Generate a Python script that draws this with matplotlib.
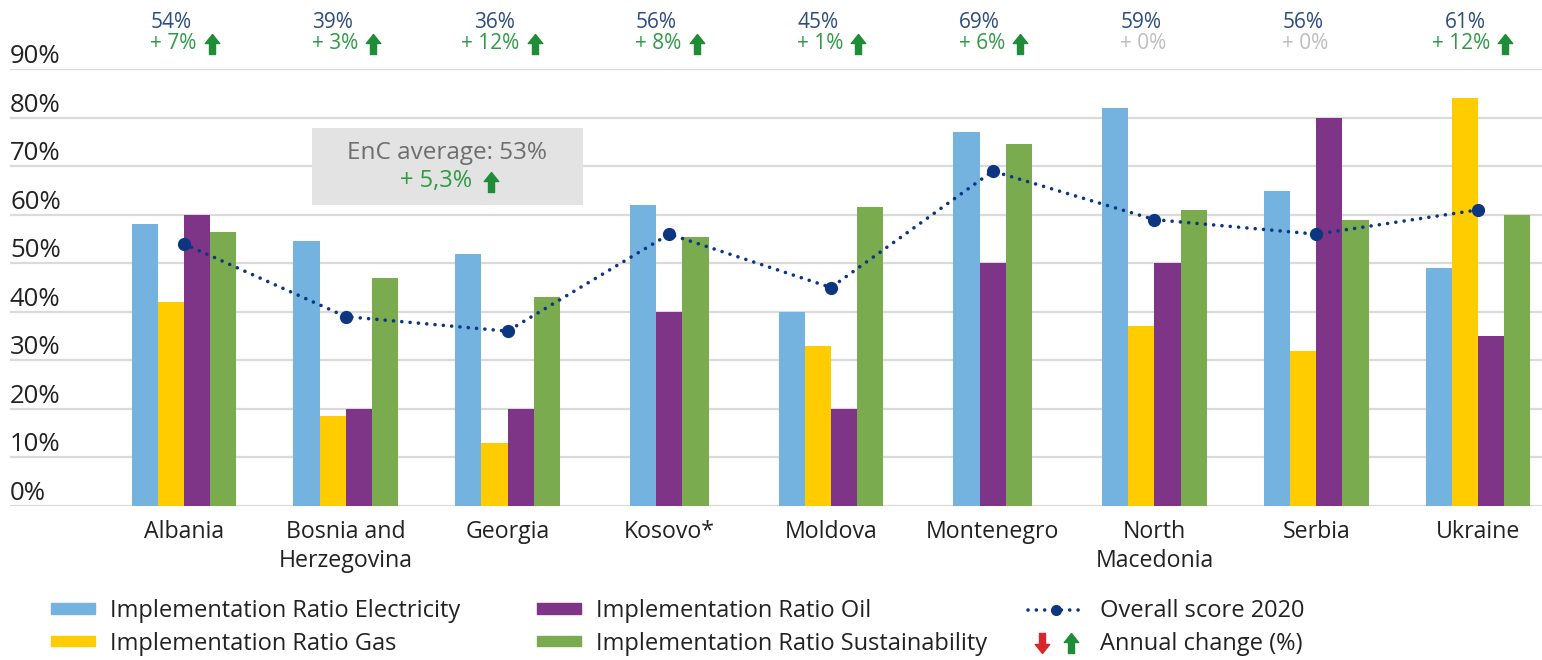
import numpy as np
import matplotlib.pyplot as plt
from matplotlib.patches import Rectangle, Patch
from matplotlib.lines import Line2D
from matplotlib.path import Path
from matplotlib.legend_handler import HandlerTuple
import matplotlib.transforms as mtransforms

plt.rcParams['font.family'] = ['Open Sans', 'DejaVu Sans']

# data
countries = ["Albania", "Bosnia and\nHerzegovina", "Georgia", "Kosovo*", "Moldova",
             "Montenegro", "North\nMacedonia", "Serbia", "Ukraine"]
electricity = [58, 54.5, 52, 62, 40, 77, 82, 65, 49]
gas = [42, 18.5, 13, np.nan, 33, np.nan, 37, 32, 84]
oil = [60, 20, 20, 40, 20, 50, 50, 80, 35]
sustainability = [56.5, 47, 43, 55.5, 61.5, 74.5, 61, 59, 60]
overall = [54, 39, 36, 56, 45, 69, 59, 56, 61]
change = [7, 3, 12, 8, 1, 6, 0, 0, 12]
avg_score = 53
avg_change = "5,3"

series = [("Implementation Ratio Electricity", electricity, "#74b3e0"),
          ("Implementation Ratio Gas", gas, "#ffcc00"),
          ("Implementation Ratio Oil", oil, "#7f3587"),
          ("Implementation Ratio Sustainability", sustainability, "#7aab4e")]

up_arrow = Path([(-0.36, 0.05), (0, 0.5), (0.36, 0.05), (0.15, 0.05), (0.15, -0.5),
                 (-0.15, -0.5), (-0.15, 0.05), (-0.36, 0.05)],
                [Path.MOVETO] + [Path.LINETO] * 6 + [Path.CLOSEPOLY])
down_arrow = Path(-up_arrow.vertices, up_arrow.codes)

green = "#2e9a46"
arrow_green = "#1f8c37"
navy = "#0d3680"
txt = "#222222"

fig = plt.figure(figsize=(15.42, 6.6), dpi=100)
W, H = 1542, 660
ax = fig.add_axes([10 / W, 1 - 505.7 / H, 1532 / W, (505.7 - 69.3) / H])

x = np.arange(len(countries))
w = 0.162
for i in range(len(countries)):
    present = [(s, c) for (lab, s, c) in series if not np.isnan(s[i])]
    n = len(present)
    for k, (s, c) in enumerate(present):
        ax.bar(i + (k - (n - 1) / 2) * w, s[i], width=w, color=c, zorder=2)

ax.plot(x, overall, color=navy, lw=2.6, ls=(0, (0.01, 2.3)), dash_capstyle='round',
        marker='o', ms=8.5, zorder=4)

ax.set_xlim(-1.076, 8.396)
ax.set_ylim(0, 90)
ticks = np.arange(0, 91, 10)
ax.set_yticks(ticks)
ax.set_yticklabels([])
ax.tick_params(axis='y', length=0)
ax.yaxis.grid(True, color='#dadada', lw=1.6)
ax.set_axisbelow(True)
ax.set_xticks(x)
ax.set_xticklabels(countries, fontsize=16.7, color=txt, linespacing=1.3)
ax.tick_params(axis='x', length=0, pad=10)
for sp in ax.spines.values():
    sp.set_visible(False)

# y labels sit above the grid lines
off = mtransforms.ScaledTranslation(0, 6 / 100, fig.dpi_scale_trans)
ytr = mtransforms.blended_transform_factory(ax.transAxes, ax.transData) + off
for t in ticks:
    ax.text(0, t, f"{t}%", transform=ytr, ha='left', va='baseline',
            fontsize=18.5, color=txt)

# scores and annual change above each country
for i in range(len(countries)):
    ax.text(i - 0.08, 99.6, f"{overall[i]}%", ha='center', va='center',
            fontsize=15, color='#2b4d80', clip_on=False)
    col = green if change[i] > 0 else '#bdbdbd'
    ax.text(i + 0.075, 95.3, f"+ {change[i]}%", ha='right', va='center',
            fontsize=15, color=col, clip_on=False)
    if change[i] > 0:
        ax.plot(i + 0.17, 95.3, marker=up_arrow, ms=14.4, color=arrow_green,
                clip_on=False, zorder=5)

# EnC average box
ax.add_patch(Rectangle((0.79, 62.0), 1.675, 15.9, facecolor='#e3e3e3',
                       edgecolor='none', zorder=1.5))
ax.text(1.624, 72.7, f"EnC average: {avg_score}%", ha='center', va='center',
        fontsize=17.5, color='#6e6e6e', zorder=3)
ax.text(1.779, 67.0, f"+ {avg_change}%", ha='right', va='center',
        fontsize=17, color=green, zorder=3)
ax.plot(1.9, 66.7, marker=up_arrow, ms=14.4, color=arrow_green, zorder=3)

# legend in three columns
leg_kw = dict(frameon=False, fontsize=17, borderpad=0, borderaxespad=0,
              handleheight=0.3, labelspacing=0.36, loc='upper left')
h = [Patch(color=c) for (_, _, c) in series]
labs = [lab for (lab, _, _) in series]
l1 = fig.legend(h[:2], labs[:2], bbox_to_anchor=(50.7 / W, 1 - 599 / H),
                handlelength=1.86, handletextpad=0.64, **leg_kw)
l2 = fig.legend(h[2:], labs[2:], bbox_to_anchor=(537 / W, 1 - 599 / H),
                handlelength=1.86, handletextpad=0.64, **leg_kw)
line_h = Line2D([], [], color=navy, lw=2.6, ls=(0, (0.01, 2.3)), dash_capstyle='round',
                marker='o', ms=7)
arr_h = (Line2D([], [], ls='none', marker=down_arrow, ms=14.4, color='#d8262a'),
         Line2D([], [], ls='none', marker=up_arrow, ms=14.4, color=arrow_green))
l3 = fig.legend([line_h, arr_h], ["Overall score 2020", "Annual change (%)"],
                bbox_to_anchor=(1028 / W, 1 - 599 / H), handlelength=2.4,
                handletextpad=0.65,
                handler_map={tuple: HandlerTuple(ndivide=None, pad=0.1)}, **leg_kw)
for lg in (l1, l2, l3):
    for t in lg.get_texts():
        t.set_color(txt)

fig.savefig("out.png", dpi=100)
